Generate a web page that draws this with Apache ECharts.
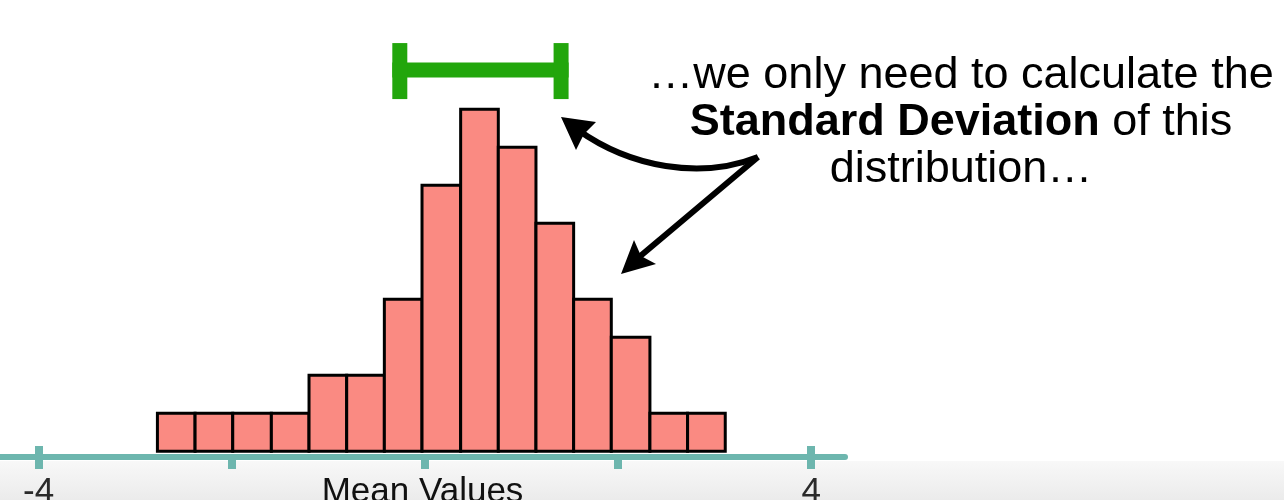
<!DOCTYPE html>
<html>
<head>
<meta charset="utf-8">
<title>Standard Deviation of the distribution</title>
<script src="https://cdn.jsdelivr.net/npm/echarts@6/dist/echarts.min.js"></script>
<style>
  html, body { margin: 0; padding: 0; background: #fff; }
  #J_chart { width: 1284px; height: 500px; }
</style>
</head>
<body>
<div id="J_chart"></div>
<script>
'use strict';

// histogram of mean values
var binEdges = [-2.77, -2.38, -1.99, -1.59, -1.20, -0.81, -0.42, -0.03, 0.37, 0.76, 1.15, 1.54, 1.93, 2.33, 2.72, 3.11];
var binCounts = [1, 1, 1, 1, 2, 2, 4, 7, 9, 8, 6, 4, 3, 1, 1];
var tickValues = [-4, -2, 0, 2, 4];
var majorTicks = [-4, 4];
var labelValues = [-4, 4];
// green bar showing one standard deviation: from, to, height
var sdBar = [-0.26, 1.41, 10.03];

var histChart = {
  _color: {
    bar: '#FA8A82',
    axis: '#6DB6AE',
    sd: '#22A60C',
    text: '#111'
  },
  buildData: function(){
    var rows = [];
    for (var i = 0; i < binCounts.length; i++) {
      rows.push([binEdges[i], binEdges[i + 1], binCounts[i]]);
    }
    return rows;
  },
  renderBar: function(params, api){
    var p0 = api.coord([api.value(0), 0]);
    var p1 = api.coord([api.value(1), api.value(2)]);
    return {
      type: 'rect',
      shape: { x: p0[0], y: p1[1], width: p1[0] - p0[0], height: p0[1] - p1[1] },
      style: { fill: histChart._color.bar, stroke: '#000', lineWidth: 3 }
    };
  },
  renderSd: function(params, api){
    var a = api.coord([api.value(0), api.value(2)]);
    var b = api.coord([api.value(1), api.value(2)]);
    var cap = 15, capH = 56, th = 15;
    var fill = { fill: histChart._color.sd };
    return {
      type: 'group',
      children: [
        { type: 'rect', shape: { x: a[0] - cap / 2, y: a[1] - th / 2, width: b[0] - a[0] + cap, height: th }, style: fill },
        { type: 'rect', shape: { x: a[0] - cap / 2, y: a[1] - capH / 2 + 1, width: cap, height: capH }, style: fill },
        { type: 'rect', shape: { x: b[0] - cap / 2, y: b[1] - capH / 2 + 1, width: cap, height: capH }, style: fill }
      ]
    };
  },
  annotations: function(){
    var font = '"Liberation Sans", Arial, Helvetica, sans-serif';
    return [
      {
        type: 'rect', z: -1, silent: true,
        shape: { x: 0, y: 461, width: 1284, height: 39 },
        style: {
          fill: new echarts.graphic.LinearGradient(0, 0, 0, 1, [
            { offset: 0, color: '#F8F8F8' },
            { offset: 1, color: '#EBEBEB' }
          ])
        }
      },
      {
        type: 'text', z: 10,
        style: {
          x: 961, y: 52,
          text: '\u2026we only need to calculate the\n{b|Standard Deviation} of this\ndistribution\u2026',
          align: 'center', verticalAlign: 'top',
          fontSize: 45, fontFamily: font,
          lineHeight: 47,
          fill: '#000',
          rich: {
            b: { fontWeight: 'bold', fontSize: 45, fontFamily: font, lineHeight: 47, fill: '#000' }
          }
        }
      },
      // curved arrow to the green bar
      {
        type: 'bezierCurve', z: 10,
        shape: { x1: 758, y1: 157, cpx1: 700, cpy1: 180, cpx2: 630, cpy2: 167, x2: 578, y2: 130 },
        style: { stroke: '#000', lineWidth: 6, fill: null }
      },
      {
        type: 'polygon', z: 10,
        shape: { points: [[561, 117], [596, 122], [584, 134], [576, 150]] },
        style: { fill: '#000' }
      },
      // straight arrow to the histogram
      {
        type: 'line', z: 10,
        shape: { x1: 758, y1: 157, x2: 638, y2: 258 },
        style: { stroke: '#000', lineWidth: 6 }
      },
      {
        type: 'polygon', z: 10,
        shape: { points: [[621, 274], [634, 240], [641, 256], [656, 264]] },
        style: { fill: '#000' }
      }
    ];
  },
  jEchart: function(){
    var me = this;
    var chart = echarts.init(document.getElementById('J_chart'));
    var font = '"Liberation Sans", Arial, Helvetica, sans-serif';
    var option = {
      animation: false,
      backgroundColor: '#fff',
      // axis line sits a few px under the bars, so y starts just below zero
      grid: { left: 0, right: 439, top: 33.2, bottom: 43, outerBoundsMode: 'none' },
      xAxis: [
        {
          type: 'value', min: -4.4, max: 4.35, position: 'bottom',
          splitLine: { show: false },
          axisLine: { show: true, onZero: false, lineStyle: { color: me._color.axis, width: 6 } },
          axisTick: { show: true, customValues: tickValues, length: 12, lineStyle: { color: me._color.axis, width: 8 } },
          axisLabel: { customValues: labelValues, margin: 18, fontSize: 35, fontFamily: font, color: '#2a2a2a' },
          name: 'Mean Values', nameLocation: 'middle', nameGap: 18, nameMoveOverlap: false,
          nameTextStyle: { fontSize: 35, fontFamily: font, color: me._color.text, verticalAlign: 'top' }
        },
        {
          type: 'value', min: -4.4, max: 4.35, position: 'bottom',
          splitLine: { show: false },
          axisLine: { show: false, onZero: false },
          axisTick: { show: true, inside: true, customValues: majorTicks, length: 11, lineStyle: { color: me._color.axis, width: 8 } },
          axisLabel: { show: false }
        }
      ],
      yAxis: { type: 'value', min: -0.15, max: 11, show: false },
      series: [
        {
          name: 'histogram', type: 'custom', xAxisIndex: 0, yAxisIndex: 0,
          renderItem: me.renderBar,
          encode: { x: [0, 1], y: 2 },
          data: me.buildData()
        },
        {
          name: 'sd', type: 'custom', xAxisIndex: 0, yAxisIndex: 0,
          renderItem: me.renderSd,
          encode: { x: [0, 1], y: 2 },
          data: [sdBar]
        }
      ],
      graphic: me.annotations()
    };
    chart.setOption(option);
  },
  init: function(){
    var me = this;
    if (!!me._init) {
      return me;
    }
    me.jEchart();
    me._init = true;
    return me;
  }
};

histChart.init();
</script>
</body>
</html>
